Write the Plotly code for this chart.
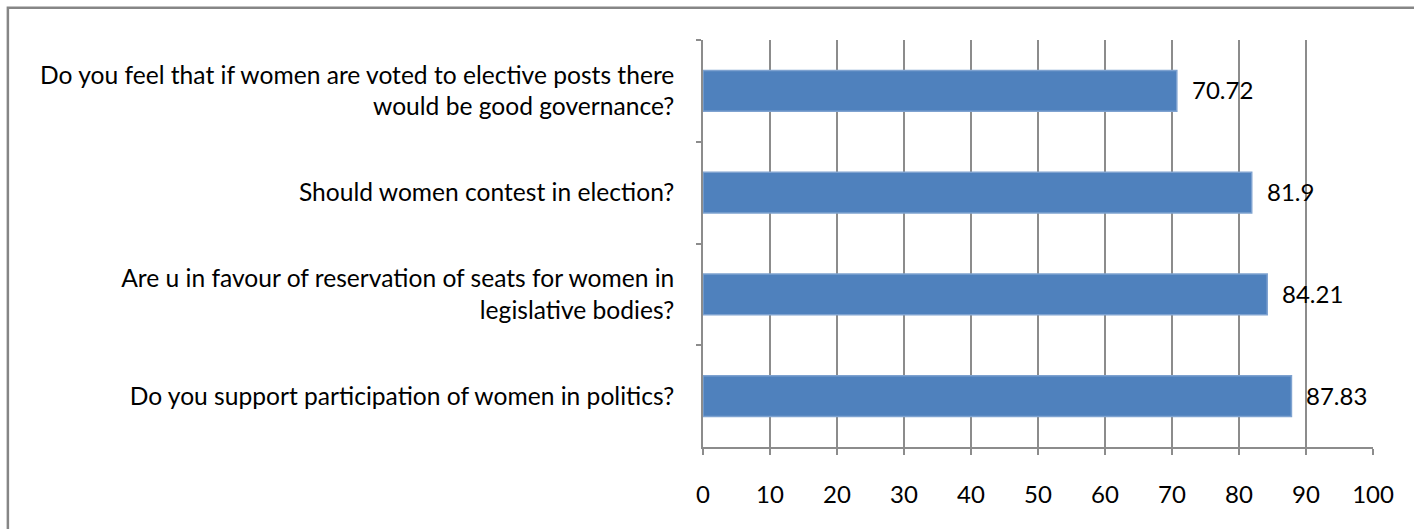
import plotly.graph_objects as go

# Survey questions (top to bottom) and percentage of "yes" answers
questions = [
    "Do you feel that if women are voted to elective posts there<br>would be good governance?",
    "Should women contest in election?",
    "Are u in favour of reservation of seats for women in<br>legislative bodies?",
    "Do you support participation of women in politics?",
]
percentages = [70.72, 81.9, 84.21, 87.83]
x_ticks = [0, 10, 20, 30, 40, 50, 60, 70, 80, 90, 100]

FONT = "Lato, Carlito, Calibri, sans-serif"
GRID = "#8c8c8c"
LABEL_SIZE = 24.6
NUM_SIZE = 24

fig = go.Figure(
    go.Bar(
        x=percentages,
        y=questions,
        orientation="h",
        marker=dict(color="#4f81bd", line=dict(color="#7ea2d0", width=1.5)),
        hoverinfo="x+y",
    )
)

# Value labels to the right of each bar
for q, v in zip(questions, percentages):
    fig.add_annotation(
        x=v, y=q, text=f"{v:g}", showarrow=False,
        xanchor="left", xshift=13, yshift=1,
        font=dict(family=FONT, size=NUM_SIZE, color="#000000"),
    )

# Outer chart frame (open towards the right and bottom edges)
fig.add_shape(
    type="rect", xref="paper", yref="paper",
    x0=-1.0375, x1=1.5, y0=-0.5, y1=1.079,
    line=dict(color="#868686", width=2.5), fillcolor="rgba(0,0,0,0)",
    layer="below",
)

fig.update_layout(
    width=1414, height=529,
    margin=dict(l=703, r=41, t=40, b=82),
    paper_bgcolor="white", plot_bgcolor="white",
    bargap=0.6,
    showlegend=False,
    font=dict(family=FONT, size=LABEL_SIZE, color="#000000"),
    xaxis=dict(
        range=[0, 100], tickvals=x_ticks, ticktext=[str(t) for t in x_ticks],
        showgrid=True, gridcolor=GRID, gridwidth=1.5,
        showline=True, linecolor=GRID, linewidth=1.5,
        ticks="outside", ticklen=6, tickcolor=GRID, tickwidth=1.5,
        zeroline=False, fixedrange=True, ticklabelstandoff=19,
        tickfont=dict(family=FONT, size=NUM_SIZE, color="#000000"),
    ),
    yaxis=dict(
        autorange="reversed", categoryorder="array", categoryarray=questions,
        showline=True, linecolor=GRID, linewidth=1.5,
        ticks="outside", ticklen=5, tickcolor=GRID, tickwidth=1.5,
        tickson="boundaries", showgrid=False, zeroline=False,
        ticklabelstandoff=22, fixedrange=True,
        tickfont=dict(family=FONT, size=LABEL_SIZE, color="#000000"),
    ),
)

fig.write_html("out.html")
